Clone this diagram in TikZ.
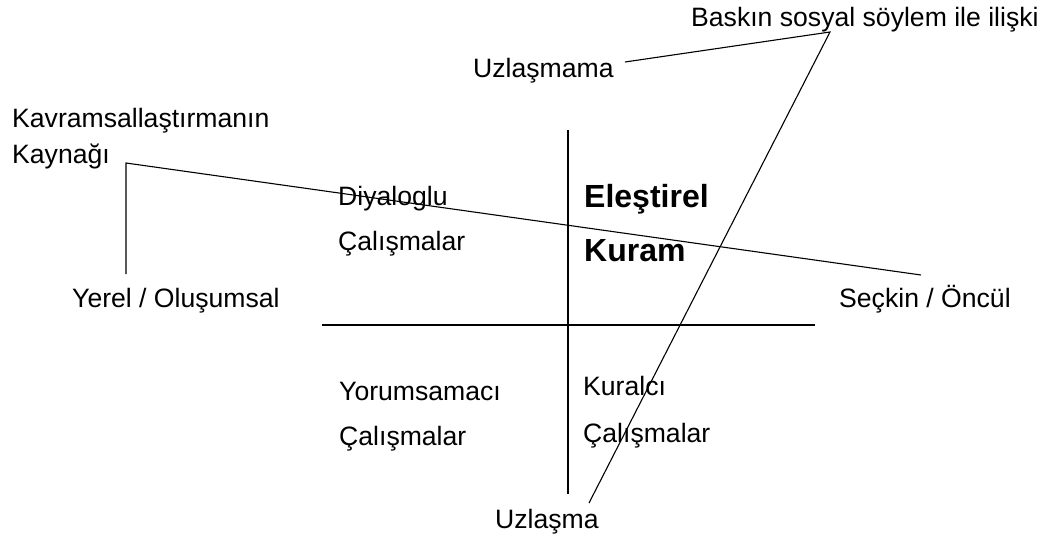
\documentclass[tikz,border=0pt]{standalone}
\usepackage{fontspec}
\setmainfont{Liberation Sans}
\usetikzlibrary{positioning,calc}

\begin{document}
\begin{tikzpicture}[x=1pt,y=-1pt,
    lbl/.style={anchor=base west,inner sep=0pt,font=\fontsize{26.6}{30}\selectfont},
    biglbl/.style={anchor=base west,inner sep=0pt,font=\fontsize{32}{36}\selectfont\bfseries},
    axis/.style={line width=2.2pt},
    link/.style={line width=1.1pt}]
    \useasboundingbox (0,0) rectangle (1051,540);

    % Axes
    \coordinate (vtop) at (568,130);
    \coordinate (vbot) at (568,494);
    \coordinate (hleft) at (322,325);
    \coordinate (hright) at (815,325);
    \draw[axis] (vtop) -- (vbot);
    \draw[axis] (hleft) -- (hright);

    % Quadrant labels
    \node[lbl] (diyalog) at (338,205) {Diyaloglu};
    \node[lbl] (diyalogb) at (338,250) {Çalışmalar};
    \node[biglbl] (elest) at (584,207) {Eleştirel};
    \node[biglbl] (kuram) at (584,261) {Kuram};
    \node[lbl] (yorum) at (339,400) {Yorumsamacı};
    \node[lbl] (yorumb) at (339,445) {Çalışmalar};
    \node[lbl] (kural) at (583,395) {Kuralcı};
    \node[lbl] (kuralb) at (583,442) {Çalışmalar};

    % Ends of the axes
    \node[lbl] (yerel) at (72,307) {Yerel / Oluşumsal};
    \node[lbl] (seckin) at (839,307) {Seçkin / Öncül};
    \node[lbl] (uzlasmama) at (473,78) {Uzlaşmama};
    \node[lbl] (uzlasma) at (495,528) {Uzlaşma};

    % Dimension names
    \node[lbl] (kavram) at (12,128) {Kavramsallaştırmanın};
    \node[lbl] (kavramb) at (12,164) {Kaynağı};
    \node[lbl] (baskin) at (691,27) {Baskın sosyal söylem ile ilişki};

    % Connectors
    \coordinate (kcorner) at (126,163);
    \coordinate (kfoot) at (126,274);
    \coordinate (kend) at (921,275);
    \draw[link] (kfoot) -- (kcorner) -- (kend);
    \coordinate (bpoint) at (830,32);
    \coordinate (ustart) at (625,62);
    \coordinate (uend) at (589,503);
    \draw[link] (ustart) -- (bpoint) -- (uend);
\end{tikzpicture}
\end{document}
